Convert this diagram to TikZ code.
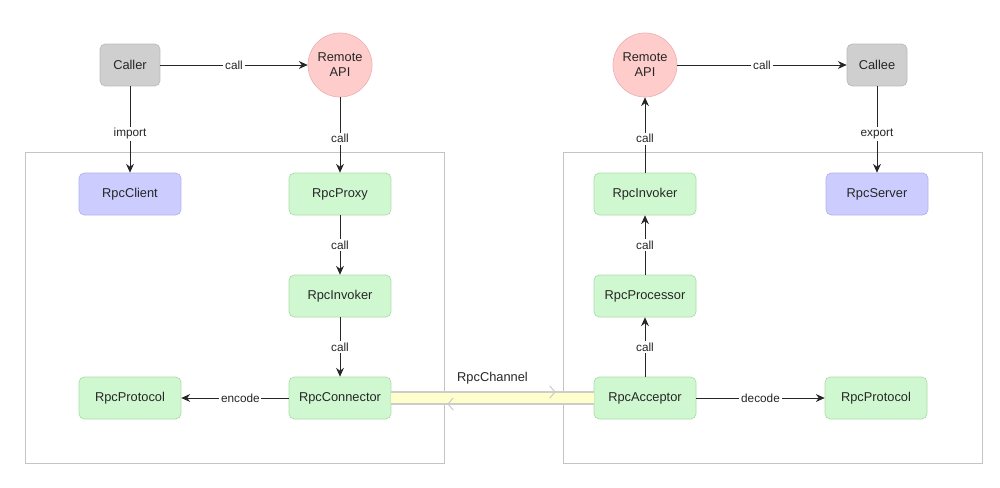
\documentclass[tikz,border=0pt]{standalone}
\usepackage{fontspec}
\setmainfont{Liberation Sans}
\usetikzlibrary{arrows.meta, positioning}

\definecolor{boxgray}{HTML}{CFCFCF}
\definecolor{apired}{HTML}{FFCCCC}
\definecolor{apiredline}{HTML}{EDB3B3}
\definecolor{rpcgreen}{HTML}{D0F8D0}
\definecolor{rpcgreenline}{HTML}{A9DCA9}
\definecolor{rpcblue}{HTML}{CCCCFF}
\definecolor{rpcblueline}{HTML}{B3B3EE}
\definecolor{chanyellow}{HTML}{FFFFCC}
\definecolor{framegray}{HTML}{C4C4C4}

\begin{document}
\begin{tikzpicture}[x=0.02cm, y=-0.02cm,
    every node/.style={font=\fontsize{7.3}{8.6}\selectfont, text=black!85},
    endbox/.style={rectangle, rounded corners=3pt, fill=boxgray, draw=boxgray!90!black, minimum width=1.2cm, minimum height=0.84cm},
    apicircle/.style={circle, fill=apired, draw=apiredline, minimum size=1.28cm, inner sep=0pt, align=center},
    rpcbox/.style={rectangle, rounded corners=3pt, fill=rpcgreen, draw=rpcgreenline, minimum width=2.04cm, minimum height=0.84cm},
    userbox/.style={rectangle, rounded corners=3pt, fill=rpcblue, draw=rpcblueline, minimum width=2.04cm, minimum height=0.84cm},
    frame/.style={draw=framegray, line width=0.5pt},
    flow/.style={-{Stealth[length=5pt, width=4.5pt]}, draw=black!85, line width=0.5pt},
    lbl/.style={fill=white, inner sep=1pt, font=\fontsize{6.7}{8}\selectfont},
    chanedge/.style={draw=black!20, line width=0.6pt}]
    \useasboundingbox (0,0) rectangle (1000,487);

    % containers
    \draw[frame] (25,152) rectangle (444,463);
    \draw[frame] (563,152) rectangle (982,463);

    % client side
    \node[endbox] (caller) at (130,65) {Caller};
    \node[apicircle] (lapi) at (340,65) {Remote\\API};
    \node[userbox] (client) at (130,194) {RpcClient};
    \node[rpcbox] (proxy) at (340,194) {RpcProxy};
    \node[rpcbox] (linvoker) at (340,296) {RpcInvoker};
    \node[rpcbox] (conn) at (340,398) {RpcConnector};
    \node[rpcbox] (lproto) at (130,398) {RpcProtocol};

    % server side
    \node[apicircle] (rapi) at (645,65) {Remote\\API};
    \node[endbox] (callee) at (877,65) {Callee};
    \node[rpcbox] (rinvoker) at (645,194) {RpcInvoker};
    \node[userbox] (server) at (877,194) {RpcServer};
    \node[rpcbox] (proc) at (645,296) {RpcProcessor};
    \node[rpcbox] (acc) at (645,398) {RpcAcceptor};
    \node[rpcbox] (rproto) at (876,398) {RpcProtocol};

    % calls
    \draw[flow] (caller) -- node[lbl] {call} (lapi);
    \draw[flow] (caller) -- node[lbl, pos=0.55] {import} (client);
    \draw[flow] (lapi) -- node[lbl, pos=0.55] {call} (proxy);
    \draw[flow] (proxy) -- node[lbl] {call} (linvoker);
    \draw[flow] (linvoker) -- node[lbl] {call} (conn);
    \draw[flow] (conn) -- node[lbl, pos=0.45] {encode} (lproto);

    \draw[flow] (acc) -- node[lbl] {call} (proc);
    \draw[flow] (proc) -- node[lbl] {call} (rinvoker);
    \draw[flow] (rinvoker) -- node[lbl, pos=0.45] {call} (rapi);
    \draw[flow] (rapi) -- node[lbl] {call} (callee);
    \draw[flow] (callee) -- node[lbl, pos=0.55] {export} (server);
    \draw[flow] (acc) -- node[lbl] {decode} (rproto);

    % channel
    \fill[chanyellow] ([yshift=0.12cm]conn.east) rectangle ([yshift=-0.12cm]acc.west);
    \draw[chanedge] ([yshift=0.12cm]conn.east) -- ([yshift=0.12cm]acc.west);
    \draw[chanedge] ([yshift=-0.12cm]conn.east) -- ([yshift=-0.12cm]acc.west);
    \draw[chanedge, -{Straight Barb[length=3pt, width=7pt]}] ([yshift=0.12cm]conn.east) -- ([yshift=0.12cm, xshift=-0.76cm]acc.west);
    \draw[chanedge, -{Straight Barb[length=3pt, width=7pt]}] ([yshift=-0.12cm]acc.west) -- ([yshift=-0.12cm, xshift=1.12cm]conn.east);
    \path (conn.east) -- node[yshift=0.4cm] (chan) {RpcChannel} (acc.west);
\end{tikzpicture}
\end{document}
